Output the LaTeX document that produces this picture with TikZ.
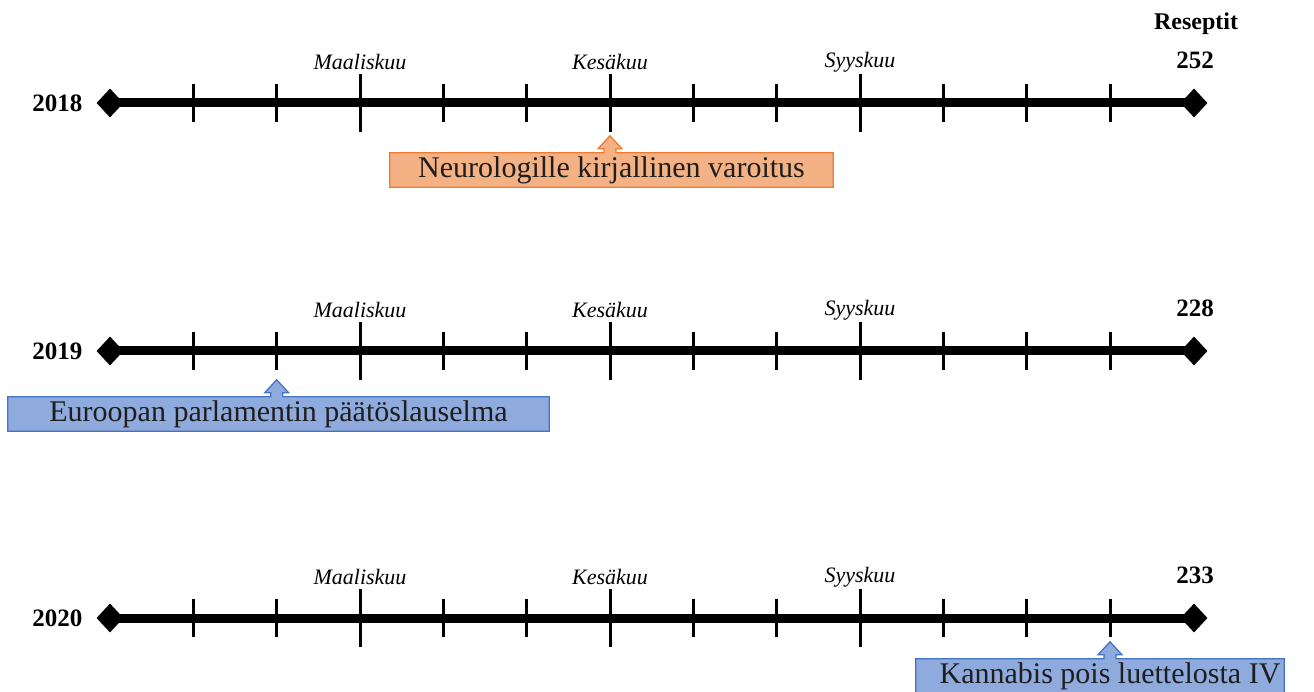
\documentclass[tikz,border=0pt]{standalone}
\usepackage{fontspec}
\setmainfont{Liberation Serif}
\usetikzlibrary{shapes.geometric,calc,backgrounds}
\definecolor{warnfill}{RGB}{244,177,131}
\definecolor{warnline}{RGB}{237,125,49}
\definecolor{eufill}{RGB}{143,170,220}
\definecolor{euline}{RGB}{68,114,196}
\definecolor{inktext}{RGB}{30,30,30}
\begin{document}
\begin{tikzpicture}[x=1pt,y=-1pt,
  axis/.style={line width=9pt},
  endmark/.style={diamond, fill=black, inner sep=0pt, minimum width=27pt, minimum height=29pt},
  tickmark/.style={line width=3pt},
  yearlabel/.style={font=\fontsize{25}{30}\selectfont\bfseries, anchor=east},
  countlabel/.style={font=\fontsize{25}{30}\selectfont\bfseries},
  monthlabel/.style={font=\fontsize{22}{26}\selectfont\itshape},
  eventfont/.style={font=\fontsize{30}{34}\selectfont, text=inktext},
  eventbox/.style={eventfont, inner sep=0pt, minimum height=34pt},
  warnshape/.style={fill=warnfill, draw=warnline, line width=1.3pt},
  eushape/.style={fill=eufill, draw=euline, line width=1.3pt},
]
\useasboundingbox (0,0) rectangle (1314,692);

% three yearly timelines with monthly ticks
\foreach \yr/\yy/\cnt in {2018/103/252, 2019/351/228, 2020/618/233} {
  \node[endmark] (l\yr) at (110,\yy) {};
  \node[endmark] (r\yr) at (1194,\yy) {};
  \draw[axis] (l\yr.center) -- (r\yr.center);
  \node[yearlabel] (y\yr) at (86,\yy) {\yr};
  \node[countlabel] (n\yr) at (1195,\yy-43) {\cnt};
  \foreach \k in {1,2,4,5,7,8,10,11,12} {
    \pgfmathsetmacro\tx{110+\k*83.333}
    \coordinate (t\yr-\k) at (\tx,\yy+19);
    \draw[tickmark] (\tx,\yy-19) -- (t\yr-\k);
  }
  \foreach \k in {3,6,9} {
    \pgfmathsetmacro\tx{110+\k*83.333}
    \coordinate (t\yr-\k) at (\tx,\yy+29);
    \draw[tickmark] (\tx,\yy-29) -- (t\yr-\k);
  }
  \node[monthlabel] (m\yr-3) at ($(t\yr-3)+(0,-70)$) {Maaliskuu};
  \node[monthlabel] (m\yr-6) at ($(t\yr-6)+(0,-70)$) {Kesäkuu};
  \node[monthlabel] (m\yr-9) at ($(t\yr-9)+(0,-70)$) {Syyskuu};
}
\node[font=\fontsize{24}{28}\selectfont\bfseries] (head) at (1196,24) {Reseptit};

% event boxes
\node[eventbox, minimum width=443pt] (e1) at (611.5,170) {Neurologille kirjallinen varoitus};
\node[eventbox, minimum width=541pt] (e2) at (278.5,414) {Euroopan parlamentin päätöslauselma};
\node[eventbox, minimum width=368pt] (e3) at (1100,676) {};
\node[eventfont, inner sep=0pt] (e3text) at ($(e3.center)+(10,0)$) {Kannabis pois luettelosta IV};

% up-arrow callout outlines behind the texts
\begin{pgfonlayer}{background}
\foreach \ev/\tk/\sty in {e1/t2018-6/warnshape, e2/t2019-2/eushape, e3/t2020-12/eushape} {
  \coordinate (base) at (\ev.north -| \tk);
  \draw[\sty, line join=miter] (\ev.south west) -- (\ev.north west)
    -- ($(base)+(-6,0)$) -- ($(base)+(-6,-4)$) -- ($(base)+(-12,-4)$)
    -- ($(base)+(0,-17)$)
    -- ($(base)+(12,-4)$) -- ($(base)+(6,-4)$) -- ($(base)+(6,0)$)
    -- (\ev.north east) -- (\ev.south east) -- cycle;
}
\end{pgfonlayer}
\end{tikzpicture}
\end{document}
